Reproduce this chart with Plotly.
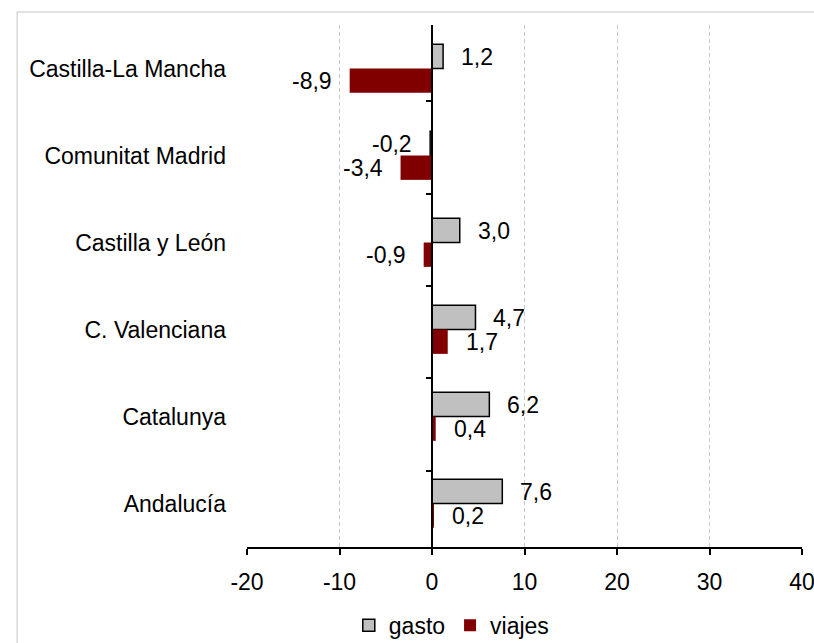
import plotly.graph_objects as go

categories = ["Castilla-La Mancha", "Comunitat Madrid", "Castilla y León",
              "C. Valenciana", "Catalunya", "Andalucía"]
gasto = [1.2, -0.2, 3.0, 4.7, 6.2, 7.6]
viajes = [-8.9, -3.4, -0.9, 1.7, 0.4, 0.2]
x_ticks = [-20, -10, 0, 10, 20, 30, 40]

FONT = "Liberation Sans, Arial, sans-serif"
FS = 23

def fmt(v):
    return f"{v:.1f}".replace(".", ",")

fig = go.Figure()
fig.add_trace(go.Bar(
    name="gasto", y=categories, x=gasto, orientation="h",
    marker=dict(color="#C0C0C0", line=dict(color="black", width=1.5)),
))
fig.add_trace(go.Bar(
    name="viajes", y=categories, x=viajes, orientation="h",
    marker=dict(color="#800000", line=dict(color="#800000", width=0)),
))
# invisible trace to build the secondary y-axis at x = 0
fig.add_trace(go.Scatter(
    y=categories, x=[0] * len(categories), yaxis="y2", mode="markers",
    marker=dict(opacity=0), showlegend=False, hoverinfo="skip",
))

annotations = []
for series, shift in ((gasto, 12), (viajes, -12)):
    for cat, v in zip(categories, series):
        annotations.append(dict(
            x=v, y=cat, xref="x", yref="y", text=fmt(v), showarrow=False,
            xanchor="left" if v >= 0 else "right",
            xshift=16 if v >= 0 else -16, yshift=shift,
            font=dict(family=FONT, size=FS, color="black"),
        ))

fig.update_layout(
    width=814, height=643,
    margin=dict(l=247, r=12, t=25, b=96, autoexpand=False),
    paper_bgcolor="white", plot_bgcolor="white",
    font=dict(family=FONT, size=FS, color="black"),
    barmode="group", bargap=0.44, bargroupgap=0,
    showlegend=True,
    legend=dict(orientation="h", x=0.369, xanchor="center", y=-0.15,
                yanchor="middle", itemwidth=30, traceorder="normal",
                font=dict(family=FONT, size=FS, color="black")),
    xaxis=dict(range=[x_ticks[0], x_ticks[-1]], tickvals=x_ticks,
               ticktext=[str(t) for t in x_ticks], automargin=False,
               ticklabeloverflow="allow", ticklabelstandoff=8,
               showline=True, linecolor="black", linewidth=1.5,
               ticks="outside", ticklen=6, tickcolor="black", tickwidth=1.5,
               showgrid=True, gridcolor="#C8C8C8", gridwidth=1,
               griddash="4px,3px", zeroline=False),
    yaxis=dict(autorange="reversed", showline=False, ticks="",
               automargin=False, showgrid=False, zeroline=False,
               ticklabelstandoff=20),
    yaxis2=dict(overlaying="y", anchor="free", automargin=False,
                position=(0 - x_ticks[0]) / (x_ticks[-1] - x_ticks[0]),
                autorange="reversed", showline=True, linecolor="black",
                linewidth=1.5, ticks="outside", ticklen=5, tickcolor="black",
                tickwidth=1.5, tickson="boundaries", showticklabels=False,
                showgrid=False, zeroline=False),
    annotations=annotations,
    shapes=[dict(type="rect", xref="paper", yref="paper",
                 x0=-0.414, x1=1.1, y0=-0.3, y1=1.025,
                 line=dict(color="#D9D9D9", width=1.5), layer="below")],
)

fig.write_html("out.html",
               config={"displayModeBar": False},
               post_script="document.body.style.margin='0';")
